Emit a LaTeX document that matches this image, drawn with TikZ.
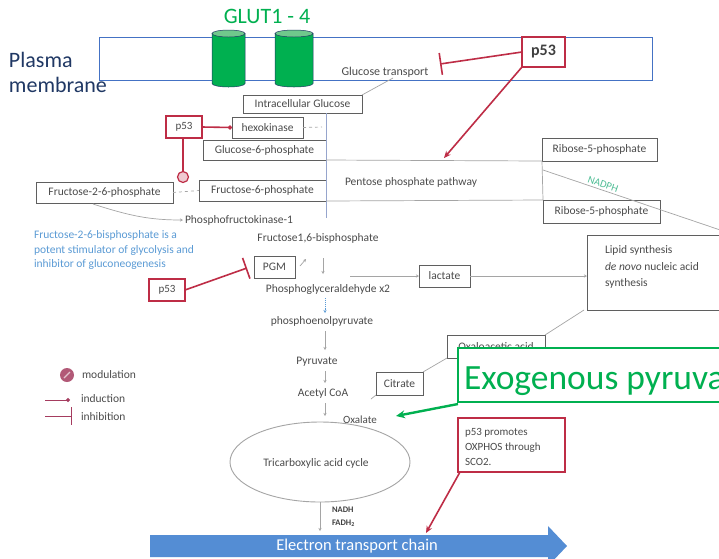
\documentclass[tikz,border=0pt]{standalone}
\usepackage{fontspec}
\setmainfont{Carlito}
\usetikzlibrary{arrows.meta,shapes.geometric}
\definecolor{p53red}{RGB}{190,45,70}
\definecolor{boxgray}{RGB}{95,95,95}
\definecolor{txtgray}{RGB}{75,75,75}
\definecolor{linegray}{RGB}{165,165,165}
\definecolor{memblue}{RGB}{68,114,196}
\definecolor{glutgreen}{RGB}{0,176,80}
\definecolor{gluttop}{RGB}{112,200,140}
\definecolor{navyblue}{RGB}{32,56,100}
\definecolor{infoblue}{RGB}{91,155,213}
\definecolor{etcblue}{RGB}{84,141,212}
\definecolor{legred}{RGB}{165,60,95}
\definecolor{nadphgreen}{RGB}{80,190,150}
\definecolor{glyblue}{RGB}{150,165,205}
\begin{document}
\begin{tikzpicture}[x=1pt,y=-1pt,
  every node/.style={inner sep=0pt, outer sep=0pt},
  gbox/.style={draw=boxgray, line width=0.8pt, fill=white, font=\fontsize{11.5}{13}\selectfont, text=txtgray},
  rbox/.style={draw=p53red, line width=1.8pt, fill=white, font=\fontsize{11}{13}\selectfont, text=txtgray},
  lbl/.style={font=\fontsize{11.5}{13}\selectfont, text=txtgray},
  glink/.style={draw=linegray, line width=0.7pt},
  garrow/.style={draw=linegray, line width=0.7pt, -{Stealth[length=3pt,width=3pt]}},
  redline/.style={draw=p53red, line width=1.6pt},
  cylbody/.style={fill=glutgreen, draw=navyblue, line width=0.5pt},
  cyltop/.style={fill=gluttop, draw=navyblue, line width=0.5pt}
]
\clip (0,0) rectangle (719,558);
\useasboundingbox (0,0) rectangle (719,558);
\fill[white] (0,0) rectangle (719,558);

% plasma membrane
\draw[memblue, line width=0.9pt] (99,37) rectangle (652,80);
\node[anchor=base west, text=navyblue, font=\fontsize{22}{24}\selectfont] (plasma) at (9,67) {Plasma};
\node[anchor=base west, text=navyblue, font=\fontsize{22}{24}\selectfont] (membrane) at (9,92) {membrane};
\node[anchor=base, text=glutgreen, font=\fontsize{22}{24}\selectfont] (glut) at (267,23) {GLUT1 - 4};

% GLUT cylinders
\path[cylbody] (212,33.5) -- (212,83.5) arc[start angle=180, end angle=360, x radius=16.5, y radius=-3.5] -- (245,33.5) -- cycle;
\draw[cyltop] (228.5,33.5) ellipse[x radius=16.5, y radius=3.5];
\path[cylbody] (275,33.5) -- (275,83.5) arc[start angle=180, end angle=360, x radius=19, y radius=-3.5] -- (313,33.5) -- cycle;
\draw[cyltop] (294,33.5) ellipse[x radius=19, y radius=3.5];

% top p53
\node[rbox, minimum width=43pt, minimum height=30pt, font=\fontsize{16}{18}\selectfont\bfseries, text=black!75] (p53top) at (543.5,52) {p53};
\node[lbl, font=\fontsize{12}{13}\selectfont] (gtrans) at (385,72) {Glucose transport};
\coordinate (gtbar) at (440,64);
\draw[redline, -{Bar[width=22pt,line width=1.6pt]}] (p53top.west) -- (gtbar);

% boxes glycolysis
\node[gbox, minimum width=119pt, minimum height=18pt] (ig) at (302.5,104) {Intracellular Glucose};
\node[gbox, minimum width=71pt, minimum height=21pt] (hk) at (267.5,127.5) {hexokinase};
\node[rbox, minimum width=36pt, minimum height=22pt] (p53a) at (184,127) {p53};
\node[gbox, minimum width=123pt, minimum height=20pt] (g6p) at (264.5,150) {Glucose-6-phosphate};
\node[gbox, minimum width=137pt, minimum height=21pt] (f26p) at (104.5,192.5) {Fructose-2-6-phosphate};
\node[gbox, minimum width=127pt, minimum height=21pt] (f6p) at (262.5,190.5) {Fructose-6-phosphate};

\coordinate (gtlow) at (393,78);
\draw[glink] (gtlow) -- (ig.north east);
\coordinate (hkdash) at (322,127);
\draw[glink, dashed] (hk.east) -- (hkdash);
\draw[glink, dashed] (f26p.east) -- (f6p.west);

% vertical glycolysis line
\coordinate (vtop) at (326,113);
\coordinate (vbot) at (326,218);
\draw[glyblue, line width=0.8pt] (vtop) -- (vbot);

% pentose phosphate pathway
\node[gbox, minimum width=115pt, minimum height=23pt] (r5p1) at (599.5,149.5) {Ribose-5-phosphate};
\node[gbox, minimum width=117pt, minimum height=23pt] (r5p2) at (601.5,211.5) {Ribose-5-phosphate};
\coordinate (ppt) at (326,160);
\coordinate (ppb) at (326,201);
\draw[glink] (ppt) -- (r5p1.south west);
\draw[glink] (ppb) -- (r5p2.north west);
\draw[glink] (r5p1.south west) -- (r5p2.north west);
\node[lbl, anchor=west] (ppp) at (345,182) {Pentose phosphate pathway};
\coordinate (nadA) at (543,170);
\coordinate (nadB) at (735,235);
\draw[glink] (nadA) -- (nadB);
\node[text=nadphgreen, font=\fontsize{10.5}{12}\selectfont, rotate=-19] (nadph) at (603,184) {NADPH};

% red arrow p53 -> pentose
\coordinate (pppin) at (444,158);
\draw[redline, -{Stealth[length=7pt,width=6pt]}] (p53top.south west) -- (pppin);

% p53 -> hexokinase, modulation
\draw[redline, -{Circle[length=4pt]}] (p53a.east) -- (hk.west);
\node[draw=p53red, line width=1.2pt, fill=p53red!25, circle, minimum size=11pt] (modc) at (183,177) {};
\draw[redline] (p53a.south -| modc) -- (modc.north);

% PFK curve
\coordinate (pfk) at (183,220);
\draw[glink, -{Stealth[length=3pt,width=3pt]}] (93,204) .. controls (130,216) and (150,220) .. (pfk);
\node[lbl, anchor=west] (pfktext) at (185,220) {Phosphofructokinase-1};
\node[lbl] (f16bp) at (318,238) {Fructose1,6-bisphosphate};

\node[anchor=west, align=left, text=infoblue, font=\fontsize{11.5}{14.3}\selectfont] (info) at (34,250) {Fructose-2-6-bisphosphate is a\\potent stimulator of glycolysis and\\inhibitor of gluconeogenesis};

% PGM and p53
\node[gbox, minimum width=41pt, minimum height=22pt] (pgm) at (274.5,267) {PGM};
\node[rbox, minimum width=36pt, minimum height=22pt] (p53b) at (167,290) {p53};
\coordinate (pgmbar) at (247,268);
\draw[redline, -{Bar[width=22pt,line width=1.6pt]}] (p53b.east) -- (pgmbar);
\draw[garrow] (300,266) -- (306,259);
\coordinate (a1) at (323,258);
\coordinate (a2) at (323,274);
\draw[garrow] (a1) -- (a2);
\node[lbl] (pga) at (328,289) {Phosphoglyceraldehyde x2};

% lactate and lipid
\node[gbox, minimum width=51pt, minimum height=22pt] (lact) at (444.5,276) {lactate};
\coordinate (lactin) at (350,276);
\draw[garrow] (lactin) -- (lact.west);
\draw[boxgray, line width=0.8pt] (740,235) -- (587,235) -- (587,310) -- (740,310);
\coordinate (lipidw) at (587,276);
\coordinate (lipidsw) at (584,310);
\draw[garrow] (lact.east) -- (lipidw);
\node[anchor=west, align=left, text=txtgray, font=\fontsize{11.5}{16.5}\selectfont] (lipid) at (605,267) {Lipid synthesis\\\textit{de novo} nucleic acid\\synthesis};

% lower glycolysis
\coordinate (b1) at (325,298);
\coordinate (b2) at (325,313);
\draw[infoblue, line width=0.9pt, densely dotted, -{Stealth[length=3pt,width=3pt]}] (b1) -- (b2);
\node[lbl] (pep) at (322,321) {phosphoenolpyruvate};
\coordinate (c1) at (325,331);
\coordinate (c2) at (325,350);
\draw[garrow] (c1) -- (c2);
\node[lbl] (pyr) at (317,362) {Pyruvate};
\coordinate (d1) at (325,371);
\coordinate (d2) at (325,383);
\draw[garrow] (d1) -- (d2);
\node[lbl] (acoa) at (323,393) {Acetyl CoA};
\coordinate (e1) at (325,403);
\coordinate (e2) at (325,416);
\draw[garrow] (e1) -- (e2);
\node[lbl, font=\fontsize{11}{12}\selectfont] (oxal) at (360,420) {Oxalate};

% citrate, oxaloacetic
\node[gbox, minimum width=47pt, minimum height=23pt] (cit) at (399.5,383.5) {Citrate};
\node[gbox, minimum width=98pt, minimum height=23pt] (oaa) at (496,346.5) {Oxaloacetic acid};
\coordinate (citout) at (371,399);
\draw[glink] (cit.south west) -- (citout);
\draw[glink] (cit.north east) -- (oaa.south west);
\draw[glink] (oaa.north east) -- (lipidsw);

% exogenous pyruvate
\node[draw=glutgreen, line width=2.4pt, fill=white, minimum width=290pt, minimum height=54pt, anchor=north west] (exo) at (458,348) {};
\node[anchor=base west, text=glutgreen, font=\fontsize{35.5}{38}\selectfont] (exotext) at (464,389) {Exogenous pyruvate};
\coordinate (exotip) at (396,416);
\draw[glutgreen, line width=2.4pt, -{Stealth[length=9pt,width=8pt]}] (458,404) -- (exotip);

% TCA
\node[draw=linegray, line width=0.9pt, ellipse, minimum width=180pt, minimum height=80pt] (tca) at (320,462) {};
\node[lbl] (tcatext) at (316,463) {Tricarboxylic acid cycle};
\coordinate (tcaout) at (320,531);
\draw[glink, -{Stealth[length=3pt,width=3pt]}] (tca.south) -- (tcaout);
\node[anchor=west, text=black!75, font=\fontsize{8.5}{10}\selectfont\bfseries] (nadh) at (332,510) {NADH};
\node[anchor=west, text=black!75, font=\fontsize{8.5}{10}\selectfont\bfseries] (fadh) at (332,523) {FADH\textsubscript{2}};

% electron transport chain
\fill[etcblue] (150,535) -- (548,535) -- (548,526) -- (567,546) -- (548,566) -- (548,557) -- (150,557) -- cycle;
\node[text=white, font=\fontsize{16.5}{18}\selectfont] (etc) at (357,546) {Electron transport chain};

% p53 promotes
\node[rbox, minimum width=107pt, minimum height=54pt] (p53c) at (511.5,445) {};
\node[anchor=west, align=left, text=txtgray, font=\fontsize{11}{15}\selectfont] (p53ctext) at (465,447) {p53 promotes\\OXPHOS through\\SCO2.};
\coordinate (etcin) at (426,533);
\draw[redline, -{Stealth[length=7pt,width=6pt]}] (p53c.south west) ++(2,0) -- (etcin);

% legend
\node[circle, fill=legred!85, minimum size=14pt] (legmod) at (67,375) {};
\draw[white!70!legred, line width=1.2pt] (64,378) -- (70,372);
\node[anchor=west, text=txtgray, font=\fontsize{11.5}{13}\selectfont] (legmodt) at (82,375) {modulation};
\coordinate (li1) at (45,400);
\coordinate (li2) at (70,400);
\draw[legred, line width=1pt, -{Circle[length=4pt]}] (li1) -- (li2);
\node[anchor=west, text=txtgray, font=\fontsize{11.5}{13}\selectfont] (legind) at (81,399) {induction};
\coordinate (lh1) at (45,416);
\coordinate (lh2) at (72,416);
\draw[legred, line width=1pt, -{Bar[width=18pt,line width=1pt]}] (lh1) -- (lh2);
\node[anchor=west, text=txtgray, font=\fontsize{11.5}{13}\selectfont] (leginh) at (81,417) {inhibition};
\end{tikzpicture}
\end{document}
